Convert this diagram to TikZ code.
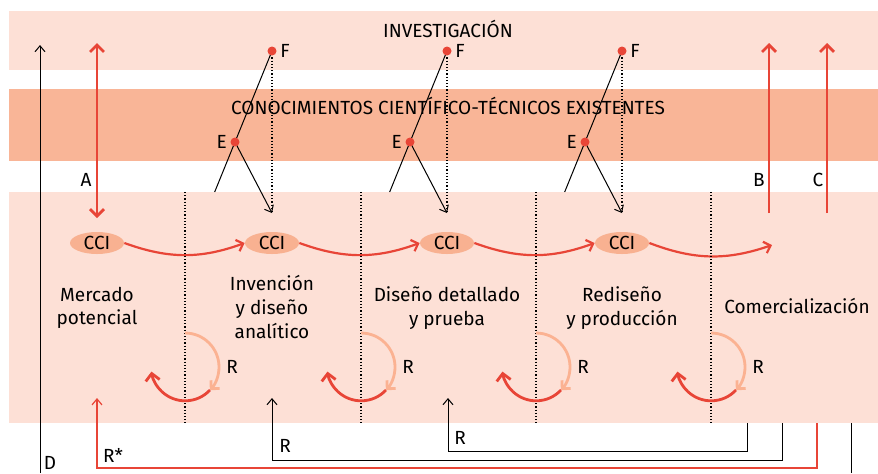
\documentclass[tikz,border=0pt]{standalone}
\usepackage{fontspec}
\setmainfont{Fira Sans}
\usetikzlibrary{arrows.meta,calc,positioning,shapes.geometric}
\definecolor{lubg}{RGB}{253,224,214}
\definecolor{conbg}{RGB}{249,181,151}
\definecolor{lured}{RGB}{232,69,55}
\definecolor{lulight}{RGB}{251,178,146}
\definecolor{cciface}{RGB}{248,177,145}

\begin{document}
\begin{tikzpicture}[x=0.5pt,y=-0.5pt,
    txt/.style={font=\fontsize{9.5}{11.8}\selectfont,inner sep=0pt},
    stage/.style={txt,align=center},
    cci/.style={txt,ellipse,fill=cciface,minimum width=27pt,minimum height=11pt},
    redarrow/.style={draw=lured,line width=1.4pt,-{Straight Barb[length=3.5pt,width=7pt]}},
    flow/.style={draw=lured,line width=1.1pt,-{Straight Barb[length=3pt,width=6pt]}},
    thinarrow/.style={line width=0.5pt,-{Straight Barb[length=3pt,width=5pt]}},
    sep/.style={densely dotted,line width=0.6pt},
    dot/.style={circle,fill=lured,inner sep=0pt,minimum size=4.5pt}]
  \useasboundingbox (0,0) rectangle (878,473);
  % bands
  \fill[lubg] (9,11) rectangle (878,70);
  \fill[conbg] (9,89) rectangle (878,161);
  \fill[lubg] (9,192) rectangle (878,423);
  \node[txt] (inv) at (448,29) {INVESTIGACIÓN};
  \node[txt] (con) at (448,106) {CONOCIMIENTOS CIENTÍFICO-TÉCNICOS EXISTENTES};

  % stages
  \foreach \i/\x in {1/97,2/272,3/447,4/622}
    \node[cci] (cci\i) at (\x,243) {CCI};
  \coordinate (comEnd) at (772,245);
  \draw[flow] (cci1.east) to[bend right=20] (cci2.west);
  \draw[flow] (cci2.east) to[bend right=20] (cci3.west);
  \draw[flow] (cci3.east) to[bend right=20] (cci4.west);
  \draw[flow] (cci4.east) to[bend right=20] (comEnd);
  \node[stage] (mer) at (97,308) {Mercado\\potencial};
  \node[stage] (idea) at (272,307) {Invención\\y diseño\\analítico};
  \node[stage] (dis) at (447,308) {Diseño detallado\\y prueba};
  \node[stage] (red) at (622,308) {Rediseño\\y producción};
  \node[stage] (com) at (797,306) {Comercialización};

  % separators and R loops
  \foreach \x in {185,361,536,711} {
    \draw[sep] (\x,192) -- (\x,423);
    \draw[lulight,line width=1.4pt,-{Straight Barb[length=3pt,width=6pt]}]
      (\x,333) arc[start angle=-90,end angle=43,radius=34];
    \draw[lured,line width=1.4pt,-{Straight Barb[length=3.5pt,width=7pt]}]
      (\x+25,390) arc[start angle=43,end angle=172,radius=34];
    \node[txt] at (\x+47,367) {R};
  }

  % E and F
  \foreach \x in {272,447,622} {
    \coordinate (t\x) at (\x,213);
    \draw[line width=0.5pt] (\x,51) -- ($(\x,51)!1.55!(\x-37,142)$);
    \draw[thinarrow] (\x-37,142) -- (t\x);
    \draw[sep] (\x,51) -- (t\x);
    \node[dot] (f\x) at (\x,51) {};
    \node[dot] (e\x) at (\x-37,142) {};
    \node[txt,right=1.5pt of f\x] {F};
    \node[txt,left=1.5pt of e\x] {E};
  }

  % A, B, C
  \coordinate (aTop) at (97,43);
  \coordinate (aBot) at (97,218);
  \draw[redarrow,{Straight Barb[length=3.5pt,width=7pt]}-{Straight Barb[length=3.5pt,width=7pt]}] (aTop) -- (aBot);
  \node[txt] (la) at (86,180) {A};
  \coordinate (bBot) at (769,213);
  \coordinate (bTop) at (769,43);
  \draw[redarrow] (bBot) -- (bTop);
  \node[txt] (lb) at (759,180) {B};
  \coordinate (cBot) at (827,213);
  \coordinate (cTop) at (827,43);
  \draw[redarrow] (cBot) -- (cTop);
  \node[txt] (lc) at (818,180) {C};

  % feedback lines
  \coordinate (dBot) at (40,473);
  \coordinate (dTop) at (40,45);
  \draw[thinarrow] (dBot) -- (dTop);
  \node[txt] (ld) at (50,463) {D};
  \coordinate (rsStart) at (817,423);
  \coordinate (rsEnd) at (97,398);
  \draw[lured,line width=0.6pt,-{Straight Barb[length=3pt,width=5pt]}]
    (rsStart) -- (817,468) -- (97,468) -- (rsEnd);
  \node[txt,text=black] (lrs) at (113,455) {R*};
  \coordinate (r1Start) at (782,423);
  \coordinate (r1End) at (272,398);
  \draw[thinarrow] (r1Start) -- (782,460) -- (272,460) -- (r1End);
  \node[txt] (lr1) at (285,446) {R};
  \coordinate (r2Start) at (747,423);
  \coordinate (r2End) at (448,398);
  \draw[thinarrow] (r2Start) -- (747,451) -- (448,451) -- (r2End);
  \node[txt] (lr2) at (460,438) {R};
  \coordinate (eStart) at (851,423);
  \coordinate (eEnd) at (851,473);
  \draw[line width=0.5pt] (eStart) -- (eEnd);
\end{tikzpicture}
\end{document}
